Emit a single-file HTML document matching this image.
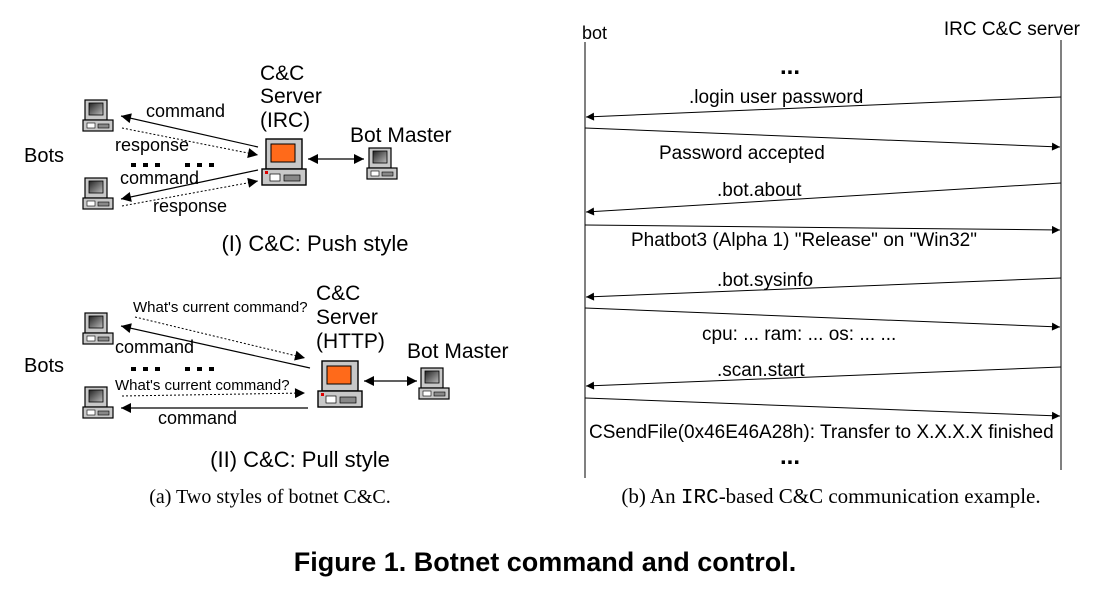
<!DOCTYPE html>
<html><head><meta charset="utf-8"><style>
body{margin:0;background:#fff;}
svg{display:block;}
text{font-family:"Liberation Sans",sans-serif;fill:#000;}
</style></head><body>
<svg width="1095" height="599" viewBox="0 0 1095 599" xmlns="http://www.w3.org/2000/svg">
<defs>
<marker id="a" viewBox="0 0 10 10" refX="10" refY="5" markerWidth="12" markerHeight="8" markerUnits="userSpaceOnUse" orient="auto-start-reverse"><path d="M0,0L10,5L0,10z" fill="#000"/></marker>
<marker id="b" viewBox="0 0 10 10" refX="10" refY="5" markerWidth="16" markerHeight="10" markerUnits="userSpaceOnUse" orient="auto-start-reverse"><path d="M0,0L10,5L0,10z" fill="#000"/></marker>
<linearGradient id="sc" x1="0" y1="0" x2="1" y2="1"><stop offset="0" stop-color="#222"/><stop offset="1" stop-color="#bbb"/></linearGradient>
<g id="pc">
<rect x="2" y="0" width="22" height="20" fill="#c8c8c8" stroke="#000" stroke-width="1.2"/>
<rect x="6" y="3" width="14" height="12" fill="url(#sc)" stroke="#000" stroke-width="0.8"/>
<rect x="0" y="20" width="30" height="11" fill="#c8c8c8" stroke="#000" stroke-width="1.2"/>
<rect x="4" y="23" width="8" height="5" fill="#fff" stroke="#000" stroke-width="0.6"/>
<rect x="15" y="24" width="11" height="4" fill="#888" stroke="#000" stroke-width="0.6"/>
</g>
<g id="srv">
<rect x="4" y="0" width="36" height="30" fill="#c8c8c8" stroke="#000" stroke-width="1.4"/>
<rect x="9" y="5" width="24" height="18" fill="#ff6a1a" stroke="#000" stroke-width="1"/>
<rect x="0" y="30" width="44" height="16" fill="#c8c8c8" stroke="#000" stroke-width="1.4"/>
<rect x="3" y="32" width="3" height="3" fill="#d00"/>
<rect x="8" y="35" width="10" height="7" fill="#fff" stroke="#000" stroke-width="0.7"/>
<rect x="22" y="36" width="16" height="6" fill="#888" stroke="#000" stroke-width="0.7"/>
</g>
<g id="dots"><rect x="0" y="0" width="5" height="4"/><rect x="12" y="0" width="5" height="4"/><rect x="24" y="0" width="5" height="4"/><rect x="54" y="0" width="5" height="4"/><rect x="66" y="0" width="5" height="4"/><rect x="78" y="0" width="5" height="4"/></g>
</defs>

<!-- Push style -->
<text x="24" y="162" font-size="20">Bots</text>
<use href="#pc" x="83" y="100"/>
<use href="#pc" x="83" y="178"/>
<use href="#srv" x="262" y="139"/>
<use href="#pc" x="367" y="148"/>
<text x="260" y="80" font-size="21">C&amp;C</text>
<text x="260" y="103" font-size="21">Server</text>
<text x="260" y="127" font-size="21">(IRC)</text>
<text x="350" y="142" font-size="21">Bot Master</text>
<line x1="258" y1="147" x2="121" y2="116" stroke="#000" stroke-width="1.2" marker-end="url(#b)"/>
<line x1="122" y1="128" x2="258" y2="155" stroke="#000" stroke-width="1" stroke-dasharray="2,2" marker-end="url(#b)"/>
<line x1="258" y1="170" x2="121" y2="199" stroke="#000" stroke-width="1.2" marker-end="url(#b)"/>
<line x1="122" y1="206" x2="258" y2="181" stroke="#000" stroke-width="1" stroke-dasharray="2,2" marker-end="url(#b)"/>
<line x1="308" y1="159" x2="364" y2="159" stroke="#000" stroke-width="1.2" marker-start="url(#b)" marker-end="url(#b)"/>
<text x="146" y="117" font-size="18">command</text>
<text x="115" y="151" font-size="18">response</text>
<text x="120" y="184" font-size="18">command</text>
<text x="153" y="212" font-size="18">response</text>
<use href="#dots" x="131" y="163"/>
<text x="315" y="251" font-size="22" text-anchor="middle">(I) C&amp;C: Push style</text>

<!-- Pull style -->
<text x="24" y="372" font-size="20">Bots</text>
<use href="#pc" x="83" y="313"/>
<use href="#pc" x="83" y="387"/>
<use href="#srv" x="318" y="361"/>
<use href="#pc" x="419" y="368"/>
<text x="316" y="300" font-size="21">C&amp;C</text>
<text x="316" y="324" font-size="21">Server</text>
<text x="316" y="348" font-size="21">(HTTP)</text>
<text x="407" y="358" font-size="21">Bot Master</text>
<line x1="135" y1="317" x2="305" y2="358" stroke="#000" stroke-width="1" stroke-dasharray="2,2" marker-end="url(#b)"/>
<line x1="310" y1="368" x2="121" y2="326" stroke="#000" stroke-width="1.2" marker-end="url(#b)"/>
<line x1="122" y1="396" x2="305" y2="393" stroke="#000" stroke-width="1" stroke-dasharray="2,2" marker-end="url(#b)"/>
<line x1="308" y1="408" x2="121" y2="408" stroke="#000" stroke-width="1.2" marker-end="url(#b)"/>
<line x1="364" y1="381" x2="417" y2="381" stroke="#000" stroke-width="1.2" marker-start="url(#b)" marker-end="url(#b)"/>
<text x="133" y="312" font-size="15">What's current command?</text>
<text x="115" y="353" font-size="18">command</text>
<text x="115" y="390" font-size="15">What's current command?</text>
<text x="158" y="424" font-size="18">command</text>
<use href="#dots" x="131" y="367"/>
<text x="300" y="467" font-size="22" text-anchor="middle">(II) C&amp;C: Pull style</text>

<!-- Sequence -->
<text x="582" y="39" font-size="18">bot</text>
<text x="1080" y="35" font-size="19" text-anchor="end">IRC C&amp;C server</text>
<line x1="585" y1="42" x2="585" y2="478" stroke="#000" stroke-width="1"/>
<line x1="1061" y1="40" x2="1061" y2="470" stroke="#000" stroke-width="1"/>
<text x="790" y="74" font-size="24" text-anchor="middle" font-weight="bold">...</text>
<g stroke="#000" stroke-width="1">
<line x1="1061" y1="97" x2="586" y2="117" marker-end="url(#a)"/>
<line x1="585" y1="128" x2="1060" y2="147" marker-end="url(#a)"/>
<line x1="1061" y1="183" x2="586" y2="212" marker-end="url(#a)"/>
<line x1="585" y1="225" x2="1060" y2="230" marker-end="url(#a)"/>
<line x1="1061" y1="278" x2="586" y2="297" marker-end="url(#a)"/>
<line x1="585" y1="308" x2="1060" y2="327" marker-end="url(#a)"/>
<line x1="1061" y1="367" x2="586" y2="386" marker-end="url(#a)"/>
<line x1="585" y1="398" x2="1060" y2="416" marker-end="url(#a)"/>
</g>
<text x="689" y="103" font-size="19">.login user password</text>
<text x="659" y="159" font-size="19">Password accepted</text>
<text x="717" y="196" font-size="19">.bot.about</text>
<text x="631" y="246" font-size="19">Phatbot3 (Alpha 1) "Release" on "Win32"</text>
<text x="717" y="286" font-size="19">.bot.sysinfo</text>
<text x="702" y="340" font-size="19">cpu:  ... ram: ... os: ... ...</text>
<text x="717" y="376" font-size="19">.scan.start</text>
<text x="589" y="438" font-size="19">CSendFile(0x46E46A28h): Transfer to X.X.X.X finished</text>
<text x="790" y="464" font-size="24" text-anchor="middle" font-weight="bold">...</text>

<!-- Captions -->
<text x="270" y="503" font-size="20" text-anchor="middle" style="font-family:'Liberation Serif',serif">(a)  Two styles of botnet C&amp;C.</text>
<text x="831" y="503" font-size="21" text-anchor="middle" style="font-family:'Liberation Serif',serif">(b)  An <tspan style="font-family:'Liberation Mono',monospace">IRC</tspan>-based C&amp;C communication example.</text>
<text x="545" y="571" font-size="27" font-weight="bold" text-anchor="middle">Figure 1. Botnet command and control.</text>
</svg>
</body></html>
